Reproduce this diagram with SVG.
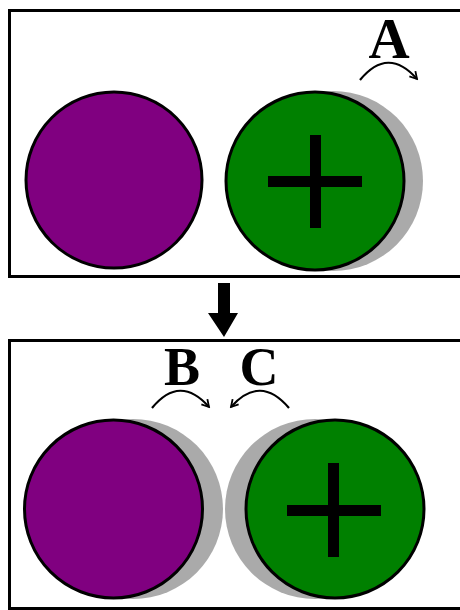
<svg xmlns="http://www.w3.org/2000/svg" width="460" height="610" viewBox="0 0 460 610">
<defs>
<style>
.box{fill:#fff;stroke:#000;stroke-width:3}
.shadow{fill:#aaaaaa}
.purple{fill:#800080;stroke:#000;stroke-width:3}
.green{fill:#008000;stroke:#000;stroke-width:3}
.bar{fill:#000}
.lbl{font-family:"Liberation Serif",serif;font-weight:bold;font-size:54px;fill:#000;text-anchor:middle}
.arc{fill:none;stroke:#000;stroke-width:2.2}
</style>
<marker id="chev" viewBox="0 0 10 10" refX="8" refY="5" markerWidth="10" markerHeight="10" markerUnits="userSpaceOnUse" orient="auto">
<path d="M1,1 L8,5 L1,9" fill="none" stroke="#000" stroke-width="1.8"/>
</marker>
</defs>
<rect x="0" y="0" width="460" height="610" fill="#fff"/>
<g id="panel-top">
<rect class="box" x="9.5" y="10.5" width="460" height="266"/>
</g>
<g id="panel-bottom">
<rect class="box" x="9.5" y="340.5" width="460" height="268"/>
</g>
<g id="top-purple">
<circle class="purple" cx="114" cy="180" r="88"/>
</g>
<g id="top-green">
<circle class="shadow" cx="333" cy="181" r="90"/>
<circle class="green" cx="315" cy="181" r="89"/>
<rect class="bar" x="310" y="135" width="11" height="93"/>
<rect class="bar" x="268" y="176" width="94" height="11"/>
</g>
<g id="bottom-purple">
<circle class="shadow" cx="133" cy="509" r="90"/>
<circle class="purple" cx="113.5" cy="509" r="89"/>
</g>
<g id="bottom-green">
<circle class="shadow" cx="315" cy="509" r="90"/>
<circle class="green" cx="335" cy="509" r="89"/>
<rect class="bar" x="328" y="463" width="11" height="94"/>
<rect class="bar" x="287" y="505" width="94" height="11"/>
</g>
<g id="label-A">
<text class="lbl" x="389" y="58" style="font-size:57px">A</text>
</g>
<g id="label-B">
<text class="lbl" x="182" y="385">B</text>
</g>
<g id="label-C">
<text class="lbl" x="259" y="385">C</text>
</g>
<g id="connectors">
<path class="arc" d="M360,80 Q388,46 417,79" marker-end="url(#chev)"/>
<path class="arc" d="M152,408 Q180,374 209,407" marker-end="url(#chev)"/>
<path class="arc" d="M289,408 Q260,374 231,407" marker-end="url(#chev)"/>
<path d="M218,283 H230 V313 H238 L224,337 L208,313 H218 Z" fill="#000"/>
</g>
</svg>
